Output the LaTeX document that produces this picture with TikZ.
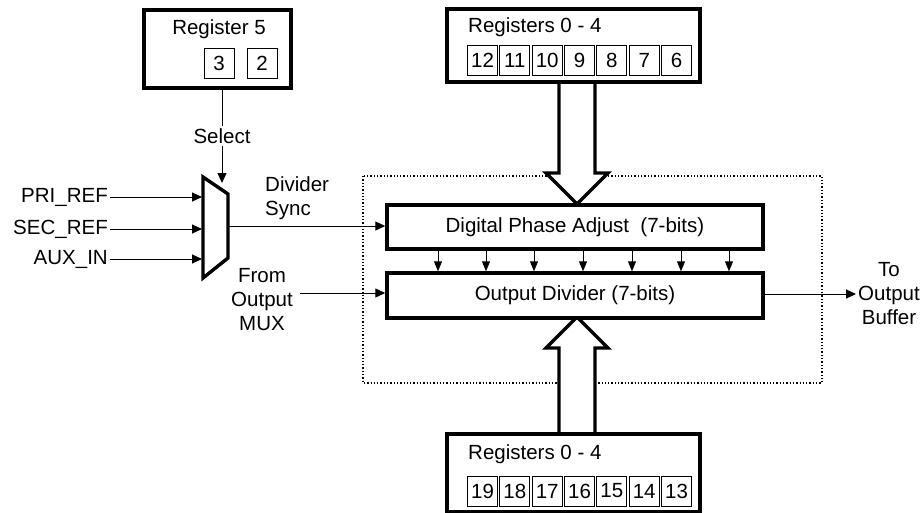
\documentclass[tikz,border=0pt]{standalone}
\usepackage{fontspec}
\setmainfont{Liberation Sans}
\usetikzlibrary{calc}
\usetikzlibrary{arrows.meta}
\tikzset{
  thickbox/.style={draw, line width=3.4pt, fill=white, inner sep=0pt},
  bitbox/.style={draw, line width=0.9pt, minimum width=30pt, minimum height=30pt, inner sep=0pt},
  sig/.style={line width=1pt, -{Triangle[length=10pt,width=9pt]}},
  smallsig/.style={line width=1pt, -{Triangle[length=10pt,width=8pt]}},
  fatarrow/.style={line width=3.4pt, fill=white, line join=miter},
  txt/.style={inner sep=2pt, align=center}
}
\newcommand{\bitcell}[4]{ \node[bitbox] (#1) at ( #2 , #3 ) {#4};}
\newcommand{\smallarrow}[1]{ \draw[smallsig] (dpa.south -| #1,0) -- (odiv.north -| #1,0);}

\begin{document}
\begin{tikzpicture}[x=1pt,y=-1pt,font=\fontsize{20.5}{24}\selectfont]
\useasboundingbox (0,0) rectangle (921,512);
% dotted frame round the divider
\draw[dotted, line width=1.3pt] (363,176) rectangle (822,383);
% wide bus arrows
\draw[fatarrow] (559,82) -- (559,173) -- (546,173) -- (577,204) -- (608,173) -- (595,173) -- (595,82);
\draw[fatarrow] (559,434) -- (559,348) -- (546,348) -- (577,317) -- (608,348) -- (595,348) -- (595,434);
% register 5
\node[thickbox, minimum width=147pt, minimum height=78pt] (reg5) at (217.5,49) {};
\node[txt] (reg5lbl) at (219,29) {Register 5};
\bitcell{b3}{219}{63.5}{3}
\bitcell{b2}{262}{63.5}{2}
% registers 0 - 4, top
\node[thickbox, minimum width=253pt, minimum height=73pt] (regtop) at (573.5,45.5) {};
\node[txt, anchor=west] (regtoplbl) at (466,27) {Registers 0 - 4};
\bitcell{b12}{482.5}{60}{12}
\bitcell{b11}{514.8}{60}{11}
\bitcell{b10}{547.2}{60}{10}
\bitcell{b9}{579.5}{60}{9}
\bitcell{b8}{611.8}{60}{8}
\bitcell{b7}{644.2}{60}{7}
\bitcell{b6}{676.5}{60}{6}
% registers 0 - 4, bottom
\node[thickbox, minimum width=253pt, minimum height=78pt] (regbot) at (573.5,473) {};
\node[txt, anchor=west] (regbotlbl) at (466,454) {Registers 0 - 4};
\bitcell{b19}{482.5}{491}{19}
\bitcell{b18}{514.8}{491}{18}
\bitcell{b17}{547.2}{491}{17}
\bitcell{b16}{579.5}{491}{16}
\bitcell{b15}{611.8}{491}{15}
\bitcell{b14}{644.2}{491}{14}
\bitcell{b13}{676.5}{491}{13}
% phase adjust and divider
\node[thickbox, minimum width=376pt, minimum height=44pt] (dpa) at (575,227) {Digital Phase Adjust\ \ (7-bits)};
\node[thickbox, minimum width=376pt, minimum height=45pt] (odiv) at (575,295.5) {Output Divider (7-bits)};
\smallarrow{438}
\smallarrow{486}
\smallarrow{534}
\smallarrow{583}
\smallarrow{632}
\smallarrow{681}
\smallarrow{729}
% mux
\draw[line width=3.4pt, line join=miter] (203,177) -- (228,194) -- (228,258) -- (203,278) -- cycle;
\coordinate (muxin1) at (202,197);
\coordinate (muxin2) at (202,229);
\coordinate (muxin3) at (202,259);
\coordinate (muxsel) at (223,183);
\coordinate (muxout) at (229,226);
% mux inputs
\node[txt, anchor=east] (pri) at (110,197) {PRI\_REF};
\node[txt, anchor=east] (sec) at (110,229) {SEC\_REF};
\node[txt, anchor=east] (aux) at (110,259) {AUX\_IN};
\draw[sig] (pri) -- (muxin1);
\draw[sig] (sec) -- (muxin2);
\draw[sig] (aux) -- (muxin3);
% select
\node[txt] (sel) at (222,136) {Select};
\draw[line width=1pt] (reg5.south -| sel) -- (sel);
\draw[sig] (sel) -- (sel |- muxsel);
% divider sync
\node[txt, anchor=west, align=left] (sync) at (263,198) {Divider\\Sync};
\draw[sig] (muxout) -- (muxout -| dpa.west);
% from output mux
\node[txt] (frommux) at (262,300) {From\\Output\\MUX};
\coordinate (fromin) at (300,293);
\draw[sig] (fromin) -- (fromin -| odiv.west);
% to output buffer
\node[txt] (tobuf) at (889,294) {To\\Output\\Buffer};
\draw[sig] (odiv.east |- tobuf) -- (tobuf.west);
\end{tikzpicture}
\end{document}
